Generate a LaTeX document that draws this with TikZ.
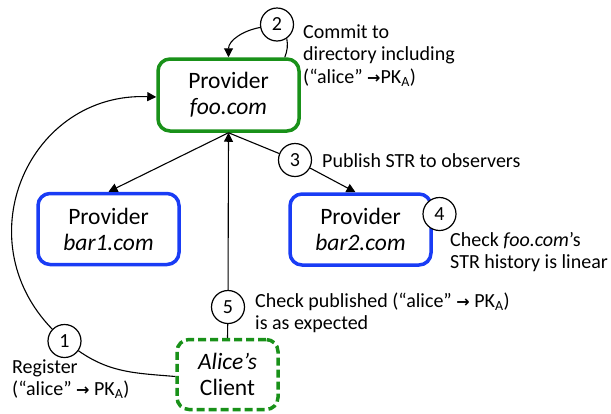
\documentclass[tikz,border=0pt]{standalone}
\usepackage{fontspec}
\setmainfont{Carlito}
\newfontfamily\symfont{DejaVu Sans}
\usetikzlibrary{arrows.meta}

\definecolor{provgreen}{RGB}{25,145,25}
\definecolor{provblue}{RGB}{25,60,245}

% key-binding arrow and public-key symbol used in the notes
\newcommand{\keyarrow}{{\symfont\bfseries\fontsize{16}{16}\selectfont →}}
\newcommand{\pka}{PK\textsubscript{A}}

\begin{document}
\begin{tikzpicture}[x=1pt,y=1pt,
  box/.style={draw, rounded corners=12pt, line width=3.5pt, align=center,
    inner sep=0pt, font=\fontsize{23.5}{26}\selectfont},
  homebox/.style={box, draw=provgreen, minimum width=141pt, minimum height=72pt},
  peerbox/.style={box, draw=provblue, minimum width=141pt, minimum height=71pt},
  clientbox/.style={box, draw=provgreen, dash pattern=on 8pt off 4pt,
    minimum width=101pt, minimum height=70pt},
  numcirc/.style={circle, draw, fill=white, line width=1.2pt, minimum size=33pt,
    inner sep=0pt, font=\fontsize{20}{20}\selectfont},
  note/.style={align=left, inner sep=0pt, anchor=base west,
    font=\fontsize{20}{22.5}\selectfont},
  link/.style={line width=1.1pt},
  arr/.style={link, -{Triangle[length=9pt,width=9pt]}}
]
\useasboundingbox (0,0) rectangle (611,-413);

% providers and client
\node[homebox] (foo) at (228.5,-95) {Provider\\\textit{foo.com}};
\node[peerbox] (bar1) at (108.5,-229) {Provider\\\textit{bar1.com}};
\node[peerbox] (bar2) at (360.5,-229.5) {Provider\\\textit{bar2.com}};
\node[clientbox] (alice) at (227.5,-374.5) {\textit{Alice’s}\\Client};

% numbered steps
\node[numcirc] (c1) at (64.5,-341) {1};
\node[numcirc] (c2) at (277,-24.5) {2};
\node[numcirc] (c3) at (295,-160) {3};
\node[numcirc] (c4) at (439.5,-214) {4};
\node[numcirc] (c5) at (228,-307) {5};

% step 1: registration
\draw[arr] (c1.136) .. controls (-36,-238) and (30,-92) .. ([yshift=-2]foo.west);
\draw[link] (c1.-35) to[out=-35,in=175] ([yshift=-2]alice.west);

% step 2: commit
\draw[link] ([xshift=-16]foo.north east) to[bend right=15] (c2.-55);
\draw[arr] (c2.190) to[out=190,in=90] (foo.north);

% step 3: publish
\draw[arr] (foo.south) -- (bar1.north);
\draw[link] (foo.south) -- (c3);
\draw[arr] (c3) -- ([xshift=-5]bar2.north);

% step 5: client check
\draw[link] (alice.north) -- (c5);
\draw[arr] (c5) -- (foo.south);

% notes (anchored at the baseline of their last line)
\node[note] (n2) at (303,-83) {Commit to\\directory including\\(“alice” \keyarrow\pka)};
\node[note] (n3) at (322,-167) {Publish STR to observers};
\node[note] (n4) at (450,-268.5) {Check \textit{foo.com}’s\\STR history is linear};
\node[note] (n5) at (255,-329.5) {Check published (“alice” \keyarrow{} \pka)\\is as expected};
\node[note] (n1) at (12,-395.5) {Register\\(“alice” \keyarrow{} \pka)};
\end{tikzpicture}
\end{document}
